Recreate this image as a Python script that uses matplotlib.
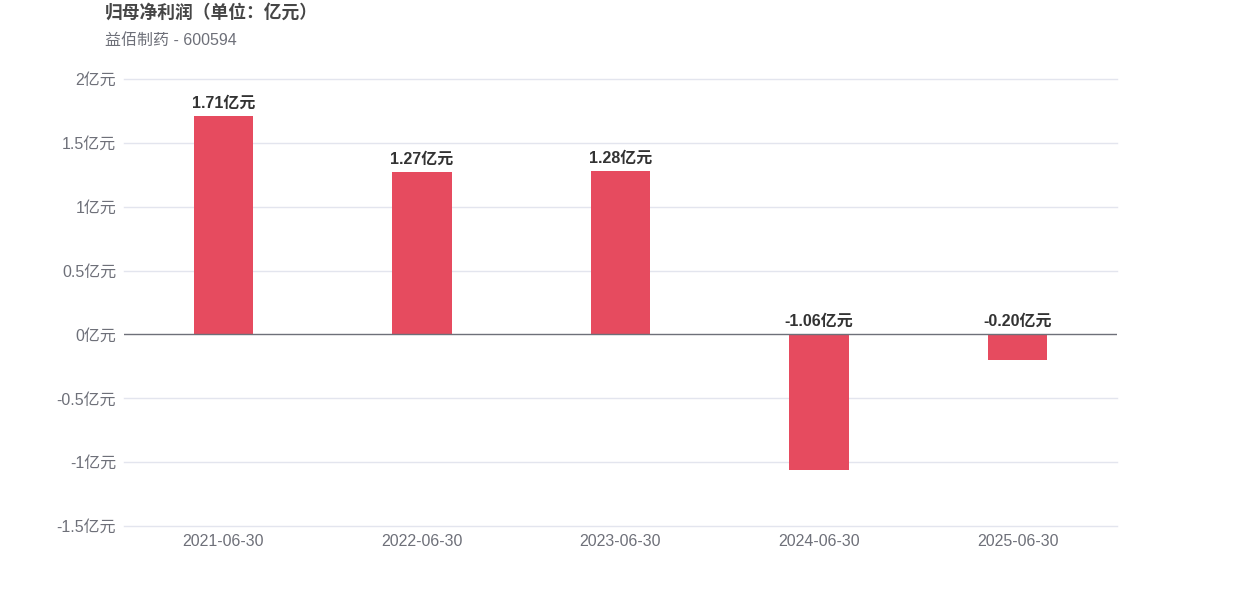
import matplotlib
matplotlib.use("Agg")
import matplotlib.pyplot as plt
from matplotlib.ticker import FixedLocator, FuncFormatter

plt.rcParams['font.family'] = ['Liberation Sans', 'Noto Sans CJK SC', 'DejaVu Sans']

categories = ["2021-06-30", "2022-06-30", "2023-06-30", "2024-06-30", "2025-06-30"]
values = [1.71, 1.27, 1.28, -1.06, -0.20]
labels = ["1.71亿元", "1.27亿元", "1.28亿元", "-1.06亿元", "-0.20亿元"]
yticks = [-1.5, -1, -0.5, 0, 0.5, 1, 1.5, 2]
title = "归母净利润（单位：亿元）"
subtitle = "益佰制药 - 600594"

W, H = 1242, 596
fig = plt.figure(figsize=(W / 100, H / 100), dpi=100)
ax = fig.add_axes([124 / W, (H - 526) / H, (1117 - 124) / W, (526 - 79) / H])

x = list(range(len(categories)))
ax.bar(x, values, width=0.30, color="#E64B5F", zorder=3)
ax.set_xlim(-0.5, len(categories) - 0.5)
ax.set_ylim(-1.5, 2)

ax.yaxis.set_major_locator(FixedLocator(yticks))
ax.yaxis.set_major_formatter(FuncFormatter(lambda v, p: f"{v:g}亿元"))
for t in yticks:
    if t != 0:
        ax.axhline(t, color="#E3E5EE", linewidth=1, zorder=0, clip_on=False)
ax.axhline(0, color="#6E7079", linewidth=1, zorder=4)
for s in ax.spines.values():
    s.set_visible(False)
ax.tick_params(axis="both", length=0, labelsize=11.5, labelcolor="#6E7079")
ax.tick_params(axis="y", pad=5.5)
ax.tick_params(axis="x", pad=5.5)
ax.set_xticks(x)
ax.set_xticklabels(categories)

for xi, v, lab in zip(x, values, labels):
    ypos = max(v, 0)
    ax.annotate(lab, (xi, ypos), xytext=(0, 4), textcoords="offset points",
                ha="center", va="bottom", fontsize=11.5, fontweight="bold",
                color="#333333", zorder=5)

fig.text(105 / W, 1 - 13 / H, title, fontsize=12.8, fontweight="bold",
         color="#464646", va="center", ha="left")
fig.text(105 / W, 1 - 40 / H, subtitle, fontsize=11.5, color="#6E7079",
         va="center", ha="left")

fig.savefig("out.png", dpi=100)
